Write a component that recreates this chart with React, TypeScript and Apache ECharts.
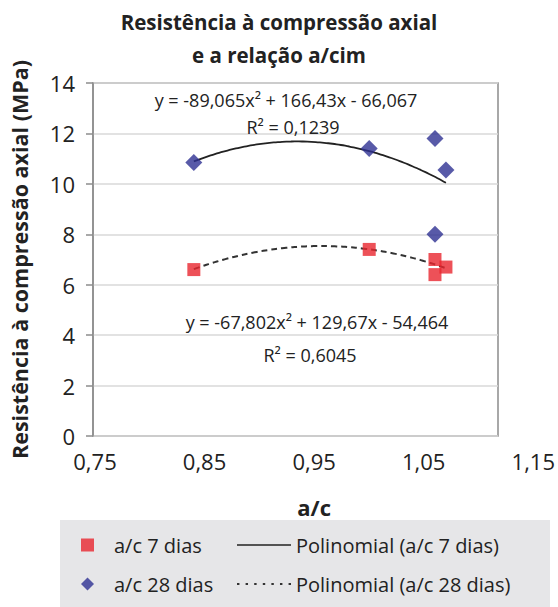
import React, { useEffect, useRef } from "react";
import * as echarts from "echarts";

// a/c ratio and compressive strength (MPa) at 7 and 28 days
const ac7 = [0.84, 1.0, 1.06, 1.06, 1.07];
const dias7 = [6.6, 7.4, 7.0, 6.4, 6.7];
const ac28 = [0.84, 1.0, 1.06, 1.06, 1.07];
const dias28 = [10.85, 11.4, 11.8, 8.0, 10.55];

// second-order trend lines [a, b, c] for y = a·x² + b·x + c
const trendUpper = [-89.065, 166.43, -66.067];
const trendLower = [-67.802, 129.67, -54.464];

const xTicks = [0.75, 0.85, 0.95, 1.05, 1.15];
const yMin = 0;
const yMax = 14;
const yStep = 2;

const FONT = "'Open Sans', 'Noto Sans', sans-serif";

// legend swatches: a thin solid bar and a row of dots
const SOLID_ICON = "path://M0,0H54V1.6H0Z";
const DOTTED_ICON =
  "path://" +
  [0, 8.5, 17, 25.5, 34, 42.5, 51]
    .map((x) => `M${x},0h2.4v2h-2.4z`)
    .join(" ");

function trendPoints(coef: number[], xs: number[]) {
  const lo = Math.min(...xs);
  const hi = Math.max(...xs);
  const pts: number[][] = [];
  const n = 60;
  for (let i = 0; i <= n; i++) {
    const x = lo + ((hi - lo) * i) / n;
    pts.push([x, coef[0] * x * x + coef[1] * x + coef[2]]);
  }
  return pts;
}

const fmt = (v: number) => v.toFixed(2).replace(".", ",");

export default function App() {
  const ref = useRef<HTMLDivElement>(null);

  useEffect(() => {
    if (!ref.current) return;
    const chart = echarts.init(ref.current, null, { renderer: "svg" });
    const txt = "#222";
    const eqStyle = {
      fontFamily: FONT,
      fontSize: 18,
      fill: txt,
      align: "center",
      verticalAlign: "middle",
    };

    chart.setOption({
      animation: false,
      backgroundColor: "#fff",
      title: {
        text: "Resistência à compressão axial\ne a relação a/cim",
        left: "center",
        top: 0,
        textStyle: {
          fontFamily: FONT,
          fontSize: 20.5,
          fontWeight: "bold",
          color: txt,
          lineHeight: 33,
        },
      },
      grid: [
        {
          left: 93,
          width: 405,
          top: 83,
          height: 353,
          show: true,
          borderColor: "#8c8c8c",
          borderWidth: 1.5,
          backgroundColor: "#fff",
        },
        { left: 95, width: 439, top: 83, height: 353, show: false },
      ],
      xAxis: [
        {
          type: "value",
          gridIndex: 0,
          min: 0.748,
          max: 1.1175,
          axisLine: { show: false },
          axisTick: { show: false },
          axisLabel: { show: false },
          splitLine: { show: false },
        },
        {
          type: "value",
          gridIndex: 1,
          min: xTicks[0],
          max: xTicks[xTicks.length - 1],
          interval: 0.1,
          axisLine: { show: false },
          axisTick: { show: false },
          splitLine: { show: false },
          axisLabel: {
            formatter: (v: number) => fmt(v),
            fontFamily: FONT,
            fontSize: 22,
            color: txt,
            margin: 14,
          },
          name: "a/c",
          nameLocation: "middle",
          nameGap: 60,
          nameTextStyle: {
            fontFamily: FONT,
            fontSize: 22,
            fontWeight: "bold",
            color: txt,
          },
        },
      ],
      yAxis: [
        {
          type: "value",
          gridIndex: 0,
          min: yMin,
          max: yMax,
          interval: yStep,
          axisLine: { show: true, lineStyle: { color: "#8c8c8c", width: 1.5 } },
          axisTick: { show: true, length: 7, lineStyle: { color: "#8c8c8c", width: 1.5 } },
          axisLabel: {
            fontFamily: FONT,
            fontSize: 22,
            color: txt,
            margin: 18,
          },
          splitLine: { show: true, lineStyle: { color: "#d9d9d9", width: 1.5 } },
          name: "Resistência à compressão axial (MPa)",
          nameLocation: "middle",
          nameGap: 63,
          nameTextStyle: {
            fontFamily: FONT,
            fontSize: 21.5,
            fontWeight: "bold",
            color: txt,
          },
        },
        {
          type: "value",
          gridIndex: 1,
          min: yMin,
          max: yMax,
          show: false,
        },
      ],
      legend: [
        {
          orient: "vertical",
          left: 81,
          top: 535,
          height: 72,
          padding: 0,
          itemWidth: 13,
          itemHeight: 13,
          itemGap: 19,
          textStyle: {
            fontFamily: FONT,
            fontSize: 20,
            color: txt,
            padding: [0, 0, 0, 15],
          },
          data: ["a/c 7 dias", "a/c 28 dias"],
        },
        {
          orient: "vertical",
          left: 237,
          top: 535,
          height: 72,
          padding: 0,
          itemWidth: 54,
          itemHeight: 13,
          itemGap: 19,
          textStyle: { fontFamily: FONT, fontSize: 20, color: txt },
          data: [
            { name: "Polinomial (a/c 7 dias)", icon: SOLID_ICON },
            { name: "Polinomial (a/c 28 dias)", icon: DOTTED_ICON },
          ],
        },
      ],
      graphic: [
        {
          type: "rect",
          shape: { x: 60, y: 520, width: 490, height: 90 },
          style: { fill: "#e6e6e8" },
          z: -1,
        },
        {
          type: "text",
          x: 286,
          y: 100,
          style: { ...eqStyle, text: "y = -89,065x² + 166,43x - 66,067" },
          z: 10,
        },
        {
          type: "text",
          x: 293,
          y: 127,
          style: { ...eqStyle, text: "R² = 0,1239" },
          z: 10,
        },
        {
          type: "text",
          x: 317,
          y: 322,
          style: { ...eqStyle, text: "y = -67,802x² + 129,67x - 54,464" },
          z: 10,
        },
        {
          type: "text",
          x: 310,
          y: 355,
          style: { ...eqStyle, text: "R² = 0,6045" },
          z: 10,
        },
      ],
      series: [
        {
          name: "Polinomial (a/c 7 dias)",
          type: "line",
          xAxisIndex: 0,
          yAxisIndex: 0,
          data: trendPoints(trendUpper, ac28),
          showSymbol: false,
          symbol: "none",
          smooth: true,
          lineStyle: { color: "#222", width: 1.8 },
          itemStyle: { color: "#222" },
          z: 3,
        },
        {
          name: "Polinomial (a/c 28 dias)",
          type: "line",
          xAxisIndex: 0,
          yAxisIndex: 0,
          data: trendPoints(trendLower, ac7),
          showSymbol: false,
          symbol: "none",
          smooth: true,
          lineStyle: { color: "#333", width: 2, type: [6, 4] },
          itemStyle: { color: "#333" },
          z: 3,
        },
        {
          name: "a/c 7 dias",
          type: "scatter",
          xAxisIndex: 0,
          yAxisIndex: 0,
          symbol: "rect",
          symbolSize: 13,
          itemStyle: { color: "#e8262e" },
          data: ac7.map((x, i) => [x, dias7[i]]),
          z: 4,
        },
        {
          name: "a/c 28 dias",
          type: "scatter",
          xAxisIndex: 0,
          yAxisIndex: 0,
          symbol: "diamond",
          symbolSize: 17,
          itemStyle: { color: "#2e3192" },
          data: ac28.map((x, i) => [x, dias28[i]]),
          z: 4,
        },
      ],
    });

    return () => chart.dispose();
  }, []);

  return (
    <div
      ref={ref}
      style={{ position: "fixed", left: 0, top: 0, width: 558, height: 607 }}
    />
  );
}
